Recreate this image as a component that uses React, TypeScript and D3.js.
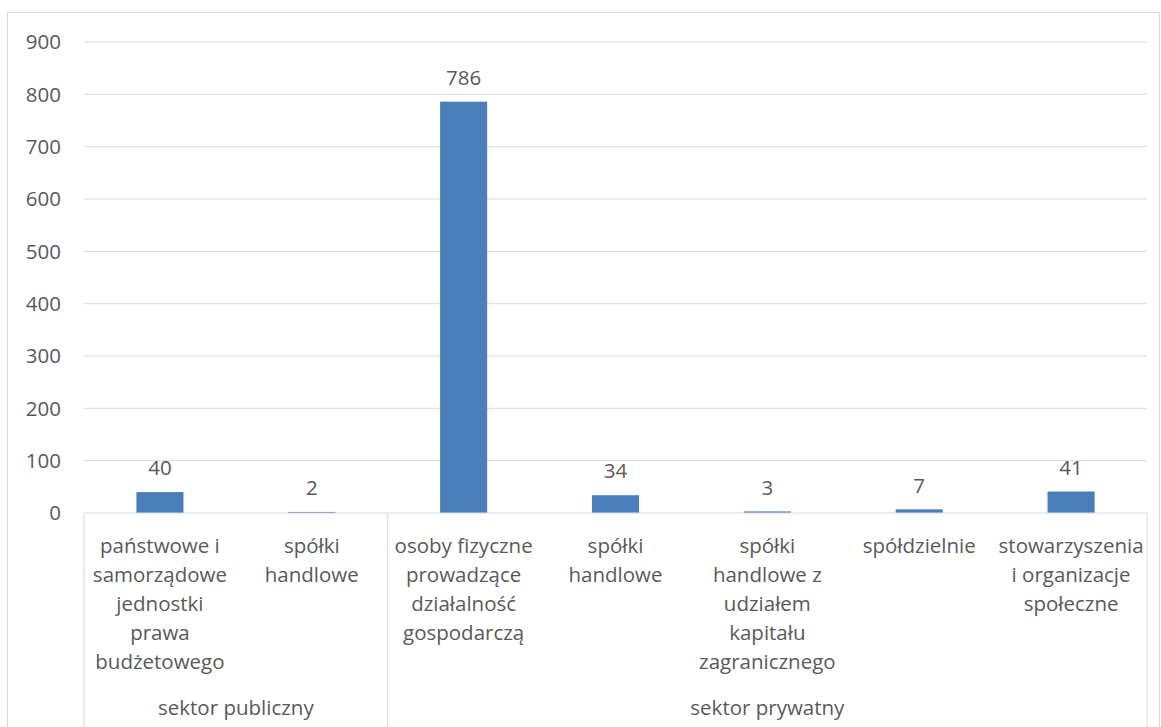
import React from "react";
import * as d3 from "d3";

const categories = [
  ["państwowe i", "samorządowe", "jednostki", "prawa", "budżetowego"],
  ["spółki", "handlowe"],
  ["osoby fizyczne", "prowadzące", "działalność", "gospodarczą"],
  ["spółki", "handlowe"],
  ["spółki", "handlowe z", "udziałem", "kapitału", "zagranicznego"],
  ["spółdzielnie"],
  ["stowarzyszenia", "i organizacje", "społeczne"],
];
const values = [40, 2, 786, 34, 3, 7, 41];
const groups = [
  { name: "sektor publiczny", start: 0, end: 2 },
  { name: "sektor prywatny", start: 2, end: 7 },
];
const yTicks = [0, 100, 200, 300, 400, 500, 600, 700, 800, 900];

const W = 1161;
const H = 727;
const FONT = "'Open Sans', sans-serif";
const TXT = "#595959";
const GRID = "#d9d9d9";
const BAR = "#4a7ebb";
const FS = 20.5;

export default function App() {
  const x = d3.scaleBand<number>().domain(d3.range(values.length)).range([84, 1147]).padding(0);
  const y = d3.scaleLinear().domain([0, 900]).range([513, 42]);
  const bw = x.bandwidth() * 0.31;
  const edge = (i: number) => (i < values.length ? (x(i) as number) : 1147);

  return (
    <svg width={W} height={H} style={{ position: "absolute", left: 0, top: 0, background: "#fff" }} fontFamily={FONT}>
      <rect x={7.5} y={12.5} width={1152} height={730} fill="#fff" stroke={GRID} strokeWidth={1} />
      {yTicks.map((t) => (
        <g key={t}>
          {t > 0 && <line x1={84} x2={1147} y1={y(t)} y2={y(t)} stroke={GRID} strokeWidth={1} />}
          <text x={61} y={y(t)} dy="0.35em" textAnchor="end" fontSize={FS} fill={TXT}>
            {t}
          </text>
        </g>
      ))}
      {values.map((v, i) => {
        const cx = (x(i) as number) + x.bandwidth() / 2;
        return (
          <g key={i}>
            <rect x={cx - bw / 2} y={y(v)} width={bw} height={y(0) - y(v)} fill={BAR} />
            <text x={cx} y={y(v) - 24} dy="0.35em" textAnchor="middle" fontSize={FS} fill={TXT}>
              {v}
            </text>
            {categories[i].map((line, j) => (
              <text key={j} x={cx} y={546 + j * 29} dy="0.35em" textAnchor="middle" fontSize={FS} fill={TXT}>
                {line}
              </text>
            ))}
          </g>
        );
      })}
      <line x1={84} x2={1147} y1={y(0)} y2={y(0)} stroke={GRID} strokeWidth={1} />
      {[0, 2, 7].map((i) => (
        <line key={i} x1={edge(i)} x2={edge(i)} y1={y(0)} y2={H} stroke={GRID} strokeWidth={1} />
      ))}
      {groups.map((g) => (
        <text key={g.name} x={(edge(g.start) + edge(g.end)) / 2} y={708} dy="0.35em" textAnchor="middle" fontSize={FS} fill={TXT}>
          {g.name}
        </text>
      ))}
    </svg>
  );
}
